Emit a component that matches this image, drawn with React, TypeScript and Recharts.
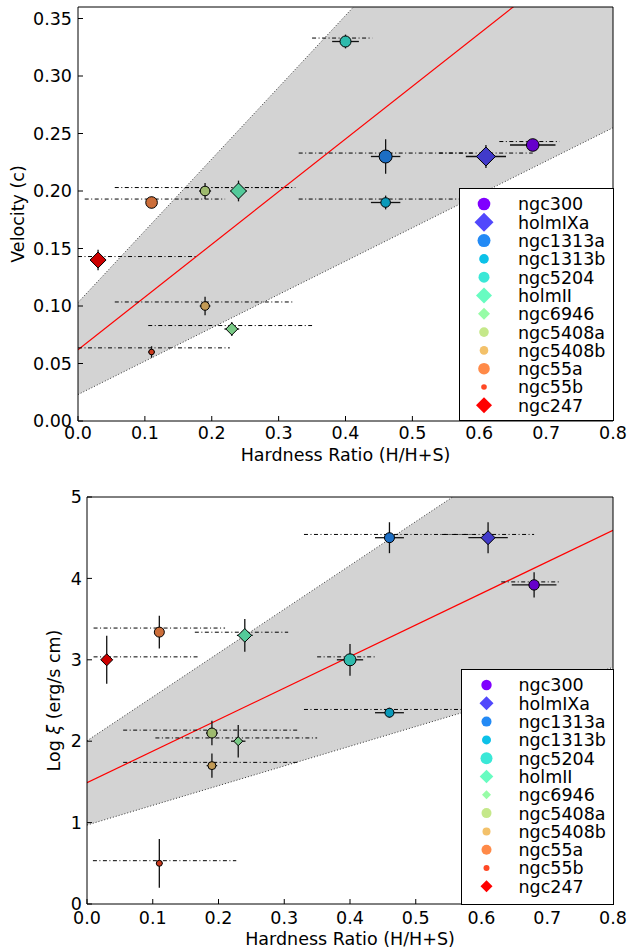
import {
  ComposedChart,
  Area,
  Line,
  Scatter,
  ErrorBar,
  XAxis,
  YAxis,
  ReferenceLine,
} from "recharts";

const GALAXIES = [
  "ngc300", "holmIXa", "ngc1313a", "ngc1313b", "ngc5204", "holmII",
  "ngc6946", "ngc5408a", "ngc5408b", "ngc55a", "ngc55b", "ngc247",
];
const SHAPES = ["o", "D", "o", "o", "o", "D", "D", "o", "o", "o", "o", "D"];
const COLORS = [
  "#8000ff", "#5148fc", "#238af5", "#0cc1e8", "#3ae8d7", "#68fcc1",
  "#97fca7", "#c5e88a", "#f3c16a", "#ff8a48", "#ff4824", "#ff0000",
];

// hardness ratio (H/H+S) and its error, shared by both panels
const HARDNESS = [0.68, 0.61, 0.46, 0.46, 0.4, 0.24, 0.23, 0.19, 0.19, 0.11, 0.11, 0.03];
const HARDNESS_ERR = [0.034, 0.03, 0.022, 0.022, 0.02, 0.012, 0.011, 0.009, 0.008, 0.007, 0.005, 0.006];

// top panel: velocity
const VELOCITY = [0.24, 0.23, 0.23, 0.19, 0.33, 0.2, 0.08, 0.2, 0.1, 0.19, 0.06, 0.14];
const VELOCITY_ERR = [0.005, 0.01, 0.015, 0.006, 0.006, 0.009, 0.006, 0.007, 0.008, 0.005, 0.005, 0.009];
const VEL_ALT_Y = [0.243, 0.233, 0.233, 0.193, 0.333, 0.203, 0.083, 0.203, 0.1035, 0.193, 0.0636, 0.143];
const VEL_ALT_LO = [0.63, 0.54, 0.33, 0.33, 0.35, 0.16, 0.105, 0.055, 0.055, 0.01, 0.0, 0.0];
const VEL_ALT_HI = [0.72, 0.68, 0.59, 0.6, 0.44, 0.32, 0.35, 0.325, 0.322, 0.22, 0.227, 0.177];
const VEL_FIT = [0.062, 0.458];
const VEL_UPPER = [0.103, 0.624];
const VEL_LOWER = [0.023, 0.29];
const VEL_TICKS = [0, 0.05, 0.1, 0.15, 0.2, 0.25, 0.3, 0.35];

// bottom panel: log xi
const LOGXI = [3.92, 4.5, 4.5, 2.35, 3.0, 3.3, 2.0, 2.1, 1.7, 3.34, 0.5, 3.0];
const LOGXI_ERR = [0.155, 0.19, 0.19, 0.06, 0.195, 0.2, 0.2, 0.15, 0.15, 0.2, 0.3, 0.295];
const XI_ALT_Y = [3.957, 4.54, 4.54, 2.39, 3.036, 3.339, 2.04, 2.136, 1.74, 3.39, 0.532, 3.036];
const XI_ALT_LO = [0.63, 0.54, 0.33, 0.33, 0.35, 0.164, 0.104, 0.055, 0.055, 0.01, 0.009, 0.01];
const XI_ALT_HI = [0.72, 0.68, 0.59, 0.6, 0.441, 0.306, 0.35, 0.322, 0.32, 0.21, 0.227, 0.172];
const XI_FIT = [1.49, 3.875];
const XI_UPPER = [2.005, 5.386];
const XI_LOWER = [0.97, 2.42];
const XI_TICKS = [0, 1, 2, 3, 4, 5];

const X_TICKS = [0, 0.1, 0.2, 0.3, 0.4, 0.5, 0.6, 0.7, 0.8];
const X_RANGE = [0, 0.8];

const TOP_SIZES = [6.3, 9.5, 6.5, 4.8, 5.5, 8, 6, 4.8, 4.3, 5.8, 2.8, 8];
const BOTTOM_SIZES = [5.2, 7, 5, 4.5, 6, 6.8, 4.5, 5, 4, 5, 3, 6];

const FONT = "'DejaVu Sans', sans-serif";
const FS = 17.5;

// markers inside the plot are drawn a bit darker than in the legend
function darken(hex: string, k: number) {
  const n = parseInt(hex.slice(1), 16);
  const c = [(n >> 16) & 255, (n >> 8) & 255, n & 255].map((v) => Math.round(v * k));
  return `rgb(${c[0]},${c[1]},${c[2]})`;
}

function Marker({ cx, cy, r, shape, color, edge }: any) {
  const common = edge
    ? { fill: darken(color, 0.8), stroke: "#000", strokeWidth: 1 }
    : { fill: color };
  if (shape === "D") {
    return (
      <polygon
        points={`${cx},${cy - r} ${cx + r},${cy} ${cx},${cy + r} ${cx - r},${cy}`}
        {...common}
      />
    );
  }
  return <circle cx={cx} cy={cy} r={r} {...common} />;
}

const line = (p: number[]) =>
  X_RANGE.map((x) => ({ x, y: p[0] + p[1] * x }));

function Panel(props: any) {
  const {
    values, errors, altY, altLo, altHi, fit, upper, lower,
    yMax, yTicks, yFmt, sizes, height, margin, yWidth,
    yTitle, yTitleX, xTitleY, xTickMargin, yTickMargin,
  } = props;

  const points = GALAXIES.map((name, i) => ({
    name, i, x: HARDNESS[i], y: values[i], ex: HARDNESS_ERR[i], ey: errors[i],
  }));
  const band = X_RANGE.map((x) => ({
    x,
    band: [lower[0] + lower[1] * x, upper[0] + upper[1] * x],
  }));

  const tickStyle = { fill: "#000", fontSize: FS, fontFamily: FONT };
  const axisLine = { stroke: "#000", strokeWidth: 1 };

  return (
    <ComposedChart width={631} height={height} margin={margin}>
      <XAxis
        xAxisId="b"
        dataKey="x"
        type="number"
        domain={[0, 0.8]}
        ticks={X_TICKS}
        allowDataOverflow
        tickFormatter={(v: number) => v.toFixed(1)}
        tick={tickStyle}
        tickSize={-5}
        tickMargin={xTickMargin}
        axisLine={axisLine}
        tickLine={axisLine}
        height={30}
        label={(lp: any) => {
          const vb = lp.viewBox;
          return (
            <text
              x={vb.x + vb.width / 2}
              y={xTitleY}
              textAnchor="middle"
              fontSize={FS}
              fontFamily={FONT}
              fill="#000"
            >
              Hardness Ratio (H/H+S)
            </text>
          );
        }}
      />
      <XAxis
        xAxisId="t"
        orientation="top"
        mirror
        type="number"
        domain={[0, 0.8]}
        ticks={X_TICKS}
        tickFormatter={() => ""}
        tickSize={5}
        axisLine={axisLine}
        tickLine={axisLine}
      />
      <YAxis
        yAxisId="l"
        dataKey="y"
        type="number"
        domain={[0, yMax]}
        ticks={yTicks}
        allowDataOverflow
        tickFormatter={yFmt}
        tick={tickStyle}
        tickSize={-5}
        tickMargin={yTickMargin}
        axisLine={axisLine}
        tickLine={axisLine}
        width={yWidth}
        label={(lp: any) => {
          const vb = lp.viewBox;
          const cy = vb.y + vb.height / 2;
          return (
            <text
              x={yTitleX}
              y={cy}
              transform={`rotate(-90 ${yTitleX} ${cy})`}
              textAnchor="middle"
              dominantBaseline="central"
              fontSize={FS}
              fontFamily={FONT}
              fill="#000"
            >
              {yTitle}
            </text>
          );
        }}
      />
      <YAxis
        yAxisId="r"
        orientation="right"
        mirror
        type="number"
        domain={[0, yMax]}
        ticks={yTicks}
        tickFormatter={() => ""}
        tickSize={5}
        axisLine={axisLine}
        tickLine={axisLine}
      />

      <Area
        xAxisId="b"
        yAxisId="l"
        data={band}
        dataKey="band"
        type="linear"
        fill="#d3d3d3"
        fillOpacity={1}
        stroke="none"
        isAnimationActive={false}
      />
      <Line
        xAxisId="b"
        yAxisId="l"
        data={line(upper)}
        dataKey="y"
        type="linear"
        stroke="#333"
        strokeWidth={1}
        strokeDasharray="1 2"
        dot={false}
        activeDot={false}
        isAnimationActive={false}
      />
      <Line
        xAxisId="b"
        yAxisId="l"
        data={line(lower)}
        dataKey="y"
        type="linear"
        stroke="#333"
        strokeWidth={1}
        strokeDasharray="1 2"
        dot={false}
        activeDot={false}
        isAnimationActive={false}
      />
      <Line
        xAxisId="b"
        yAxisId="l"
        data={line(fit)}
        dataKey="y"
        type="linear"
        stroke="#ff0000"
        strokeWidth={1.2}
        dot={false}
        activeDot={false}
        isAnimationActive={false}
      />

      {GALAXIES.map((name, i) => (
        <ReferenceLine
          key={name}
          xAxisId="b"
          yAxisId="l"
          segment={[
            { x: altLo[i], y: altY[i] },
            { x: altHi[i], y: altY[i] },
          ]}
          stroke="#000"
          strokeWidth={1}
          strokeDasharray="4 2.5 1 2.5"
          ifOverflow="hidden"
        />
      ))}

      <Scatter
        xAxisId="b"
        yAxisId="l"
        data={points}
        dataKey="y"
        isAnimationActive={false}
        shape={(p: any) => (
          <Marker
            cx={p.cx}
            cy={p.cy}
            r={sizes[p.payload.i]}
            shape={SHAPES[p.payload.i]}
            color={COLORS[p.payload.i]}
            edge
          />
        )}
      />
      <Scatter
        xAxisId="b"
        yAxisId="l"
        data={points}
        dataKey="y"
        isAnimationActive={false}
        shape={() => <g />}
      >
        <ErrorBar dataKey="ex" direction="x" width={0} stroke="#111" strokeWidth={1.3} isAnimationActive={false} />
        <ErrorBar dataKey="ey" direction="y" width={0} stroke="#111" strokeWidth={1.3} isAnimationActive={false} />
      </Scatter>
    </ComposedChart>
  );
}

function LegendBox({ left, top, width, height, sizes, markerX, textX }: any) {
  return (
    <div
      style={{
        position: "absolute",
        left,
        top,
        width,
        height,
        boxSizing: "border-box",
        border: "1px solid #000",
        background: "#fff",
      }}
    >
      <svg width={width - 2} height={height - 2} style={{ display: "block" }}>
        {GALAXIES.map((name, i) => {
          const cy = 15 + 18.3 * i;
          return (
            <g key={name}>
              <Marker cx={markerX} cy={cy} r={sizes[i]} shape={SHAPES[i]} color={COLORS[i]} />
              <text x={textX} y={cy + 6.4} fontSize={FS} fontFamily={FONT} fill="#000">
                {name}
              </text>
            </g>
          );
        })}
      </svg>
    </div>
  );
}

export default function App() {
  return (
    <div
      style={{
        position: "absolute",
        left: 0,
        top: 0,
        width: 631,
        height: 949,
        background: "#fff",
        fontFamily: FONT,
      }}
    >
      <div style={{ position: "absolute", left: 0, top: 0 }}>
        <Panel
          values={VELOCITY}
          errors={VELOCITY_ERR}
          altY={VEL_ALT_Y}
          altLo={VEL_ALT_LO}
          altHi={VEL_ALT_HI}
          fit={VEL_FIT}
          upper={VEL_UPPER}
          lower={VEL_LOWER}
          yMax={0.36}
          yTicks={VEL_TICKS}
          yFmt={(v: number) => v.toFixed(2)}
          sizes={TOP_SIZES}
          height={470}
          margin={{ top: 7, right: 18, bottom: 19, left: 16 }}
          yWidth={62}
          yTitle="Velocity (c)"
          yTitleX={17.5}
          xTitleY={461}
          xTickMargin={11}
          yTickMargin={11}
        />
      </div>
      <div style={{ position: "absolute", left: 0, top: 470 }}>
        <Panel
          values={LOGXI}
          errors={LOGXI_ERR}
          altY={XI_ALT_Y}
          altLo={XI_ALT_LO}
          altHi={XI_ALT_HI}
          fit={XI_FIT}
          upper={XI_UPPER}
          lower={XI_LOWER}
          yMax={5}
          yTicks={XI_TICKS}
          yFmt={(v: number) => String(v)}
          sizes={BOTTOM_SIZES}
          height={479}
          margin={{ top: 27, right: 18, bottom: 15, left: 17 }}
          yWidth={70}
          yTitle={
            <>
              Log <tspan fontStyle="italic">ξ</tspan> (erg/s cm)
            </>
          }
          yTitleX={54}
          xTitleY={474.5}
          xTickMargin={13}
          yTickMargin={10}
        />
      </div>
      <LegendBox left={459} top={188} width={155} height={233} sizes={TOP_SIZES} markerX={24} textX={58} />
      <LegendBox left={461} top={669} width={153} height={236} sizes={BOTTOM_SIZES} markerX={24.5} textX={56.5} />
    </div>
  );
}
